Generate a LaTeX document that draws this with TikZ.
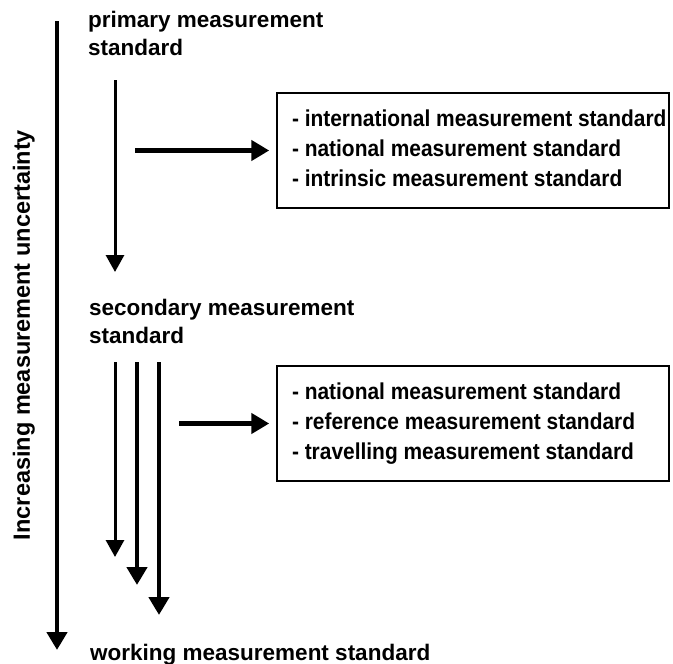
\documentclass[tikz,border=0pt]{standalone}
\usepackage{fontspec}
\setmainfont{Liberation Sans}
\newfontfamily\boxfont{Liberation Sans}[FakeStretch=0.91]
\usetikzlibrary{arrows.meta,positioning}

\begin{document}
\begin{tikzpicture}[
    x=1pt, y=-1pt,
    lbl/.style={font=\fontsize{22.5}{28}\selectfont\bfseries, inner sep=0pt, align=left, anchor=base west},
    stdbox/.style={draw, line width=1.5pt, text width=362pt, inner xsep=15pt, minimum height=115pt, inner ysep=0pt, align=left,
        font=\boxfont\fontsize{23}{30}\selectfont\bfseries, execute at begin node={\spaceskip=0pt\xspaceskip=0pt}},
    arr/.style={line width=3pt, -{Triangle[width=18pt,length=17pt]}},
    thickarr/.style={line width=4.5pt, -{Triangle[width=20pt,length=18pt]}}
]
    \useasboundingbox (0,0) rectangle (673,664);

    % levels of the hierarchy (base = last line)
    \node[lbl] (primary) at (88,55) {primary measurement\\standard};
    \node[lbl] (secondary) at (89,343) {secondary measurement\\standard};
    \node[lbl] (working) at (90,660) {working measurement standard};

    % side axis
    \node[lbl, font=\fontsize{23.5}{28}\selectfont\bfseries, anchor=base, rotate=90] (axis) at (30,335) {Increasing measurement uncertainty};
    \coordinate (axtop) at (57,21);
    \coordinate (axend) at (57,650);
    \draw[thickarr] (axtop) -- (axend);

    % examples
    \node[stdbox] (boxA) at (473,150.5) {\begin{tabular}{@{}l@{}}- international measurement standard\\- national measurement standard\\- intrinsic measurement standard\end{tabular}};
    \node[stdbox] (boxB) at (473,423.5) {\begin{tabular}{@{}l@{}}- national measurement standard\\- reference measurement standard\\- travelling measurement standard\end{tabular}};

    \coordinate (pa) at (115,80);
    \coordinate (pb) at (115,272);
    \draw[arr] (pa) -- (pb);
    \coordinate (ha) at (135,150.5);
    \draw[thickarr, shorten >=7pt] (ha) -- (boxA.west);

    \foreach \x/\y/\s in {115/557/arr, 137/585/thickarr, 159/615/thickarr} {
        \coordinate (s\x) at (\x,362);
        \coordinate (e\x) at (\x,\y);
        \draw[\s] (s\x) -- (e\x);
    }
    \coordinate (hb) at (179,423.5);
    \draw[thickarr, shorten >=7pt] (hb) -- (boxB.west);
\end{tikzpicture}
\end{document}
